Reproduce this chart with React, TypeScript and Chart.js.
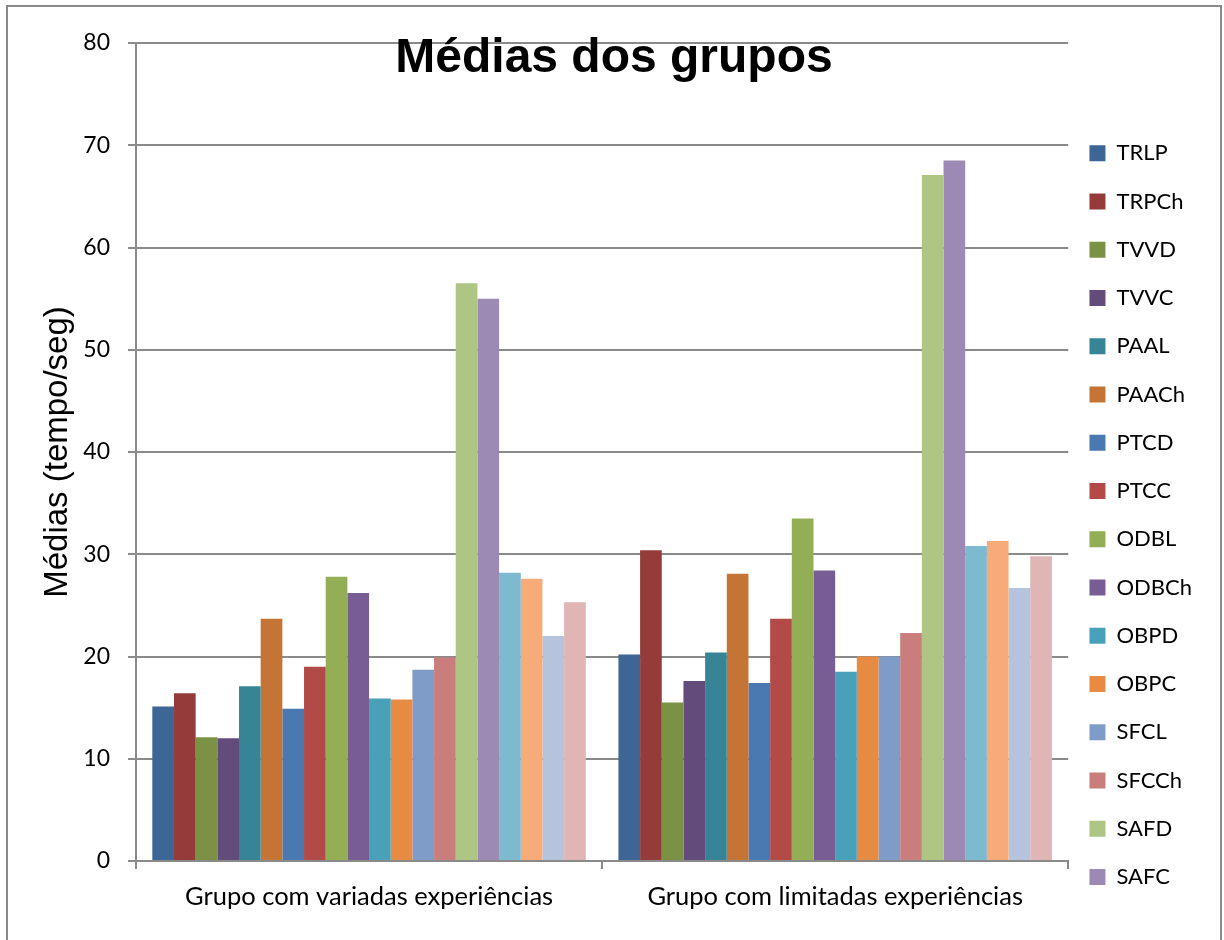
import { useEffect, useRef } from "react";
import { Chart, registerables } from "chart.js";

Chart.register(...registerables);

const categories = ["Grupo com variadas experiências", "Grupo com limitadas experiências"];
const seriesNames = [
  "TRLP", "TRPCh", "TVVD", "TVVC", "PAAL", "PAACh", "PTCD", "PTCC",
  "ODBL", "ODBCh", "OBPD", "OBPC", "SFCL", "SFCCh", "SAFD", "SAFC",
  "Série 17", "Série 18", "Série 19", "Série 20",
];
const variadasValues = [15.1, 16.4, 12.1, 12.0, 17.1, 23.7, 14.9, 19.0, 27.8, 26.2, 15.9, 15.8, 18.7, 19.9, 56.5, 55.0, 28.2, 27.6, 22.0, 25.3];
const limitadasValues = [20.2, 30.4, 15.5, 17.6, 20.4, 28.1, 17.4, 23.7, 33.5, 28.4, 18.5, 20.0, 20.0, 22.3, 67.1, 68.5, 30.8, 31.3, 26.7, 29.8];
const seriesColors = [
  "#3d6595", "#953b3a", "#7b9143", "#634b7c", "#388497", "#c47535", "#4a78b0", "#b24a48",
  "#93ae55", "#785c94", "#48a1b8", "#e88b42", "#7f9cc8", "#c97d7c", "#aec584", "#9d8ab4",
  "#7db9cf", "#f7ab79", "#b6c3dc", "#dfb5b5",
];
const visibleLegendCount = 16;
const yMin = 0;
const yMax = 80;
const yStep = 10;
const chartTitle = "Médias dos grupos";
const yAxisTitle = "Médias (tempo/seg)";

const W = 1224;
const H = 940;

export default function App() {
  const ref = useRef<HTMLCanvasElement | null>(null);

  useEffect(() => {
    if (!ref.current) return;
    const frameAndTitle = {
      id: "frameAndTitle",
      afterLayout(chart: any) {
        // pull the legend a little closer to the plot area
        if (chart.legend) {
          chart.legend.left -= 5;
          chart.legend.right -= 5;
        }
      },
      beforeDraw(chart: any) {
        const ctx = chart.ctx;
        ctx.save();
        ctx.fillStyle = "#ffffff";
        ctx.fillRect(0, 0, chart.width, chart.height);
        ctx.strokeStyle = "#8a8a8a";
        ctx.lineWidth = 2;
        ctx.strokeRect(7, 6, 1214, 980);
        ctx.restore();
      },
      afterDraw(chart: any) {
        const ctx = chart.ctx;
        ctx.save();
        ctx.fillStyle = "#000000";
        ctx.font = "bold 48px 'Liberation Sans', Arial, sans-serif";
        ctx.textAlign = "center";
        ctx.textBaseline = "alphabetic";
        ctx.fillText(chartTitle, 614, 72);
        ctx.restore();
      },
    };

    const chart = new Chart(ref.current, {
      type: "bar",
      data: {
        labels: categories,
        datasets: seriesNames.map((name, i) => ({
          label: name,
          data: [variadasValues[i], limitadasValues[i]],
          backgroundColor: seriesColors[i],
          borderWidth: 0,
          categoryPercentage: 0.93,
          barPercentage: 1.0,
        })),
      },
      options: {
        animation: false,
        responsive: false,
        layout: { padding: { top: 43, left: 0, right: 17, bottom: 0 } },
        plugins: {
          title: { display: false },
          tooltip: { enabled: false },
          legend: {
            position: "right",
            align: "start",
            title: { display: true, text: "", padding: { top: 30, bottom: 31 }, font: { size: 10 } },
            labels: {
              filter: (item: any) => item.datasetIndex < visibleLegendCount,
              boxWidth: 16,
              boxHeight: 16,
              padding: 26.25,
              color: "#000000",
              font: { family: "Lato, 'Open Sans', sans-serif", size: 22 },
            },
          },
        },
        scales: {
          x: {
            grid: { display: true, drawOnChartArea: false, drawTicks: true, tickLength: 8, color: "#8a8a8a", lineWidth: 2 },
            border: { display: true, color: "#8a8a8a", width: 2 },
            ticks: { color: "#000000", padding: 12, font: { family: "Lato, 'Open Sans', sans-serif", size: 25.5 } },
            afterFit: (s: any) => { s.height = 79; },
          },
          y: {
            min: yMin,
            max: yMax,
            ticks: { stepSize: yStep, color: "#000000", padding: 18, font: { family: "Lato, 'Open Sans', sans-serif", size: 23 } },
            grid: { color: "#8a8a8a", lineWidth: 2, tickLength: 8 },
            border: { display: true, color: "#8a8a8a", width: 2 },
            title: {
              display: true,
              text: yAxisTitle,
              color: "#000000",
              padding: { top: 38, bottom: 0 },
              font: { family: "'Liberation Sans', Arial, sans-serif", size: 33 },
            },
            afterFit: (s: any) => { s.width = 136; },
          },
        },
      },
      plugins: [frameAndTitle],
    });
    return () => chart.destroy();
  }, []);

  return (
    <div style={{ position: "fixed", left: 0, top: 0, width: W, height: H, background: "#fff" }}>
      <canvas ref={ref} width={W} height={H} style={{ display: "block" }} />
    </div>
  );
}
